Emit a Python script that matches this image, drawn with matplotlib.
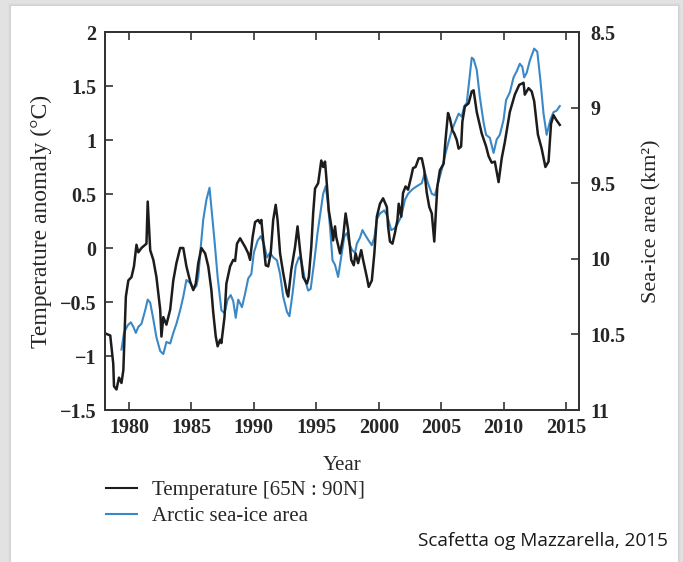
import matplotlib
matplotlib.use("Agg")
import matplotlib.pyplot as plt
from matplotlib.lines import Line2D
from matplotlib.patches import Rectangle

# Arctic temperature anomaly [65N:90N], degC
temp_year = [1978.08, 1978.5, 1978.74, 1978.8, 1979.0, 1979.2, 1979.4, 1979.55, 1979.75, 1979.95,
             1980.2, 1980.4, 1980.6, 1980.75, 1981.0, 1981.3, 1981.4, 1981.5, 1981.6, 1981.7,
             1981.95, 1982.2, 1982.5, 1982.6, 1982.75, 1983.0, 1983.3, 1983.55, 1983.8, 1984.1,
             1984.35, 1984.6, 1984.9, 1985.15, 1985.35, 1985.55, 1985.8, 1986.1, 1986.35, 1986.6,
             1986.75, 1986.95, 1987.1, 1987.3, 1987.4, 1987.65, 1987.8, 1988.1, 1988.35, 1988.5,
             1988.65, 1988.9, 1989.3, 1989.55, 1989.7, 1989.9, 1990.1, 1990.35, 1990.5, 1990.6,
             1990.75, 1990.95, 1991.15, 1991.35, 1991.55, 1991.75, 1991.9, 1992.1, 1992.35, 1992.65,
             1992.75, 1993.0, 1993.3, 1993.5, 1993.7, 1993.95, 1994.25, 1994.4, 1994.6, 1994.75,
             1994.9, 1995.15, 1995.4, 1995.55, 1995.7, 1995.8, 1996.0, 1996.25, 1996.35, 1996.5,
             1996.6, 1996.9, 1997.15, 1997.35, 1997.55, 1997.8, 1998.0, 1998.15, 1998.35, 1998.6,
             1998.75, 1999.05, 1999.2, 1999.45, 1999.65, 1999.85, 2000.1, 2000.35, 2000.65, 2000.75,
             2000.9, 2001.1, 2001.3, 2001.5, 2001.6, 2001.8, 2001.95, 2002.15, 2002.35, 2002.6,
             2002.75, 2002.95, 2003.2, 2003.45, 2003.65, 2003.85, 2004.05, 2004.25, 2004.45, 2004.6,
             2004.7, 2004.9, 2005.2, 2005.35, 2005.55, 2005.7, 2005.9, 2006.05, 2006.25, 2006.4,
             2006.6, 2006.7, 2006.9, 2007.2, 2007.45, 2007.6, 2007.85, 2008.25, 2008.6, 2008.8,
             2009.05, 2009.3, 2009.6, 2009.85, 2010.1, 2010.5, 2010.9, 2011.25, 2011.6, 2011.7,
             2012.0, 2012.25, 2012.45, 2012.75, 2013.05, 2013.35, 2013.6, 2013.8, 2014.0, 2014.2,
             2014.5]
temp_val = [-0.79, -0.81, -1.07, -1.28, -1.31, -1.20, -1.25, -1.13, -0.45, -0.30,
            -0.27, -0.17, 0.03, -0.04, 0.00, 0.03, 0.04, 0.43, 0.20, -0.02,
            -0.11, -0.27, -0.57, -0.82, -0.64, -0.71, -0.57, -0.30, -0.14, 0.00,
            0.00, -0.17, -0.31, -0.39, -0.33, -0.14, 0.00, -0.05, -0.17, -0.39,
            -0.60, -0.82, -0.91, -0.85, -0.88, -0.64, -0.33, -0.17, -0.11, -0.12,
            0.04, 0.09, 0.01, -0.05, -0.11, 0.10, 0.24, 0.26, 0.23, 0.26,
            0.07, -0.16, -0.17, -0.05, 0.26, 0.40, 0.26, -0.05, -0.23, -0.42,
            -0.45, -0.20, 0.01, 0.20, -0.02, -0.27, -0.33, -0.27, 0.01, 0.32,
            0.55, 0.60, 0.81, 0.75, 0.80, 0.66, 0.35, 0.17, 0.07, 0.20,
            0.10, -0.05, 0.10, 0.32, 0.17, -0.11, -0.16, -0.05, -0.14, -0.02,
            -0.11, -0.27, -0.36, -0.30, -0.05, 0.29, 0.41, 0.46, 0.38, 0.20,
            0.06, 0.04, 0.14, 0.26, 0.41, 0.29, 0.51, 0.57, 0.54, 0.66,
            0.74, 0.75, 0.83, 0.83, 0.72, 0.51, 0.38, 0.32, 0.06, 0.38,
            0.57, 0.72, 0.78, 1.00, 1.25, 1.20, 1.09, 1.06, 1.00, 0.92,
            0.94, 1.17, 1.31, 1.34, 1.45, 1.46, 1.26, 1.06, 0.94, 0.85,
            0.79, 0.80, 0.61, 0.83, 0.98, 1.26, 1.42, 1.51, 1.53, 1.42,
            1.48, 1.45, 1.36, 1.05, 0.92, 0.75, 0.80, 1.15, 1.23, 1.19,
            1.14]

# Arctic sea-ice area, million km2 (right axis, inverted)
ice_year = [1979.4, 1979.6, 1979.9, 1980.15, 1980.35, 1980.55, 1980.75, 1981.0, 1981.3, 1981.5,
            1981.7, 1981.95, 1982.2, 1982.5, 1982.75, 1983.0, 1983.3, 1983.55, 1983.8, 1984.1,
            1984.35, 1984.6, 1984.9, 1985.15, 1985.4, 1985.55, 1985.75, 1985.95, 1986.2, 1986.45,
            1986.6, 1986.85, 1987.1, 1987.4, 1987.65, 1987.9, 1988.15, 1988.35, 1988.55, 1988.75,
            1989.05, 1989.3, 1989.55, 1989.8, 1990.0, 1990.3, 1990.55, 1990.8, 1991.05, 1991.3,
            1991.55, 1991.85, 1992.1, 1992.35, 1992.65, 1992.85, 1993.1, 1993.35, 1993.6, 1993.8,
            1994.1, 1994.35, 1994.55, 1994.85, 1995.1, 1995.4, 1995.55, 1995.75, 1995.9, 1996.1,
            1996.3, 1996.5, 1996.75, 1997.05, 1997.25, 1997.45, 1997.65, 1997.85, 1998.1, 1998.25,
            1998.5, 1998.7, 1998.9, 1999.2, 1999.45, 1999.65, 1999.85, 2000.1, 2000.45, 2000.7,
            2001.0, 2001.25, 2001.5, 2001.8, 2002.1, 2002.35, 2002.7, 2003.05, 2003.45, 2003.7,
            2003.95, 2004.25, 2004.5, 2004.75, 2005.05, 2005.3, 2005.55, 2005.85, 2006.1, 2006.4,
            2006.65, 2006.85, 2007.05, 2007.3, 2007.45, 2007.6, 2007.85, 2008.1, 2008.4, 2008.6,
            2008.9, 2009.2, 2009.45, 2009.7, 2010.0, 2010.2, 2010.5, 2010.8, 2011.05, 2011.3,
            2011.5, 2011.65, 2011.85, 2012.1, 2012.45, 2012.7, 2012.95, 2013.2, 2013.45, 2013.75,
            2014.0, 2014.25, 2014.5]
ice_val = [10.60, 10.49, 10.44, 10.42, 10.45, 10.49, 10.45, 10.43, 10.34, 10.27,
           10.29, 10.40, 10.52, 10.61, 10.63, 10.55, 10.56, 10.49, 10.43, 10.34,
           10.25, 10.14, 10.16, 10.20, 10.18, 10.12, 9.92, 9.74, 9.61, 9.53,
           9.66, 9.88, 10.12, 10.34, 10.36, 10.27, 10.24, 10.28, 10.39, 10.27,
           10.32, 10.23, 10.13, 10.10, 9.96, 9.88, 9.85, 9.90, 9.99, 9.96,
           9.99, 10.01, 10.10, 10.25, 10.35, 10.38, 10.23, 10.05, 9.99, 10.01,
           10.14, 10.21, 10.20, 10.01, 9.83, 9.66, 9.57, 9.52, 9.61, 9.79,
           10.01, 10.04, 10.12, 9.96, 9.85, 9.83, 9.90, 9.94, 9.96, 9.90,
           9.86, 9.81, 9.84, 9.88, 9.91, 9.86, 9.74, 9.70, 9.68, 9.72,
           9.81, 9.80, 9.77, 9.72, 9.61, 9.57, 9.54, 9.52, 9.50, 9.43,
           9.50, 9.57, 9.58, 9.50, 9.41, 9.32, 9.24, 9.15, 9.10, 9.04,
           9.06, 8.99, 8.97, 8.78, 8.67, 8.68, 8.75, 8.93, 9.10, 9.18,
           9.20, 9.30, 9.21, 9.18, 9.08, 8.95, 8.90, 8.80, 8.76, 8.71,
           8.73, 8.80, 8.77, 8.69, 8.61, 8.63, 8.82, 9.04, 9.18, 9.08,
           9.03, 9.02, 8.99]

year_ticks = [1980, 1985, 1990, 1995, 2000, 2005, 2010, 2015]
temp_ticks = [-1.5, -1, -0.5, 0, 0.5, 1, 1.5, 2]
temp_labels = ["\u22121.5", "\u22121", "\u22120.5", "0", "0.5", "1", "1.5", "2"]
ice_ticks = [8.5, 9, 9.5, 10, 10.5, 11]
ice_labels = ["8.5", "9", "9.5", "10", "10.5", "11"]

BLACK = "#1c1c1c"
BLUE = "#3b88c6"
TXT = "#262626"
SERIF = "Liberation Serif"

plt.rcParams["font.family"] = SERIF

fig = plt.figure(figsize=(6.83, 5.62), dpi=100, facecolor="#e2e2e2")
W, H = 683, 562

# card with soft shadow (kept behind the axes)
for i, a in enumerate([0.05, 0.07, 0.1]):
    d = 3 - i
    fig.patches.append(Rectangle(((11 - d) / W, 0), (667 + 2 * d) / W, (556 + d) / H,
                                 transform=fig.transFigure, facecolor="#9a9a9a", alpha=a,
                                 edgecolor="none", zorder=-5))
fig.patches.append(Rectangle((11 / W, 0), 667 / W, 556 / H, transform=fig.transFigure,
                             facecolor="white", edgecolor="none", zorder=-4))

ax = fig.add_axes([105 / W, 1 - 410 / H, 474 / W, 378 / H])
ax2 = ax.twinx()
ax.set_zorder(2)
ax2.set_zorder(1)
ax.patch.set_visible(False)
ax2.patch.set_visible(False)

ax.plot(temp_year, temp_val, color=BLACK, lw=1.8)
ax2.plot(ice_year, ice_val, color=BLUE, lw=1.5)

ax.set_xlim(1978.08, 2016.04)
ax.set_ylim(-1.5, 2)
ax2.set_ylim(11, 8.5)

ax.set_xticks(year_ticks)
ax.set_yticks(temp_ticks)
ax.set_yticklabels(temp_labels)
ax2.set_yticks(ice_ticks)
ax2.set_yticklabels(ice_labels)

ax.tick_params(axis="x", direction="in", top=True, length=6, width=1.2, color="#333333",
               labelsize=14.5, labelcolor=TXT, pad=6)
ax.tick_params(axis="y", direction="in", right=False, length=6, width=1.2, color="#333333",
               labelsize=14.5, labelcolor=TXT, pad=6)
ax2.tick_params(axis="y", direction="in", length=6, width=1.2, color="#333333",
                labelsize=14.5, labelcolor=TXT, pad=8)
for lab in ax.get_xticklabels() + ax.get_yticklabels() + ax2.get_yticklabels():
    lab.set_fontweight("bold")

for a in (ax, ax2):
    for s in a.spines.values():
        s.set_linewidth(1.4)
        s.set_color("#333333")

ax.set_xlabel("Year", fontsize=15, color=TXT, labelpad=13)
ax.set_ylabel("Temperature anomaly (\u00b0C)", fontsize=17, color=TXT, labelpad=6)
ax2.set_ylabel("Sea-ice area (km\u00b2)", fontsize=16, color=TXT, labelpad=12)

handles = [Line2D([], [], color=BLACK, lw=1.5), Line2D([], [], color=BLUE, lw=1.5)]
fig.legend(handles, ["Temperature [65N : 90N]", "Arctic sea-ice area"],
           loc="upper left", bbox_to_anchor=(87 / W, 1 - 462 / H), frameon=False,
           fontsize=15, handlelength=1.5, handletextpad=0.7, labelspacing=0.3,
           labelcolor=TXT)

fig.text(668 / W, 1 - 541 / H, "Scafetta og Mazzarella, 2015", ha="right", va="center",
         fontsize=13.7, family="Open Sans", color="#1a1a1a")

fig.savefig("out.png", dpi=100, facecolor=fig.get_facecolor())
